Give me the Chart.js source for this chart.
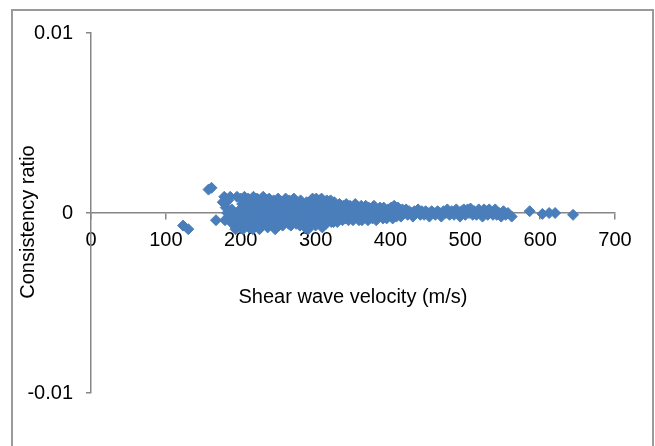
<!DOCTYPE html>
<html>
<head>
<meta charset="utf-8">
<title>Consistency ratio vs shear wave velocity</title>
<script src="https://cdn.jsdelivr.net/npm/chart.js@4.4.1/dist/chart.umd.min.js"></script>
<style>
  html, body { margin: 0; padding: 0; background: #fff; }
  #wrap { position: absolute; left: 0; top: 0; width: 655px; height: 446px; overflow: hidden; }
  #frame { position: absolute; left: 11px; top: 9px; width: 643px; height: 500px; box-sizing: border-box; border: 2px solid #9a9a9a; }
  canvas { position: absolute; left: 0; top: 0; }
</style>
</head>
<body>
<div id="wrap">
  <div id="frame"></div>
  <canvas id="chart" width="655" height="446"></canvas>
</div>
<script>
// shear wave velocity (m/s) of each site
const velocity = [
  123, 130, 157, 161, 167, 176, 178, 179, 180, 182, 183, 184, 186, 188, 189, 191, 193, 195, 196, 197, 199, 200,
  201, 202, 203, 204, 205, 206, 207, 208, 209, 210, 211, 212, 213, 214, 215, 216, 217, 218, 219, 220, 221, 222, 223, 224,
  225, 226, 227, 228, 229, 230, 231, 232, 233, 234, 236, 237, 238, 239, 240, 241, 242, 243, 244, 245, 246, 247, 248, 249,
  250, 251, 252, 253, 254, 255, 256, 257, 258, 259, 260, 261, 262, 263, 264, 265, 266, 267, 268, 269, 270, 271, 272, 273,
  274, 275, 276, 277, 278, 279, 280, 281, 282, 283, 284, 285, 286, 287, 288, 289, 290, 291, 292, 293, 294, 295, 296, 297,
  298, 299,
  300, 301, 302, 303, 304, 305, 306, 307, 308, 309, 310, 311, 312, 313, 314, 315, 316, 317, 318, 319, 320, 321, 322, 323,
  324, 325, 326, 327, 328, 329, 330, 332, 333, 334, 336, 337, 338, 340, 341, 342, 344, 345, 346, 348, 349,
  350, 352, 353, 355, 356, 358, 359, 361, 362, 364, 365, 367, 368, 370, 371, 373, 375, 376, 378, 380, 381, 383, 385, 386,
  388, 390, 391, 393, 395, 397, 399, 401, 403, 405, 406, 408, 410, 412, 414, 416, 418,
  421, 423, 425, 428, 430, 432, 435, 437, 440, 442, 445, 447, 450, 452, 455, 458, 460, 463, 466, 468, 471, 474, 476, 479,
  482, 485, 488, 490, 493, 495, 498, 500, 503, 505, 507, 510, 512, 515, 518, 520, 523, 525, 528, 530, 532, 535, 537, 540,
  542, 545, 548, 551, 554, 557, 562,
  586, 603, 612, 620, 644
];

// consistency ratio of each site
const ratio = [
  -0.0007, -0.0009, 0.0013, 0.0014, -0.0004, 0.0006, 0.0009, -0.0004, 0.0003, 0.0000, 0.0007, -0.0002, 0.0009, 0.0002, -0.0006, -0.0001, -0.0009, 0.0009, -0.0003, 0.0001, -0.0007, 0.0008,
  0.0000, 0.0005, -0.0009, 0.0003, 0.0009, -0.0005, 0.0007, -0.0002, 0.0001, 0.0008, -0.0008, 0.0004, -0.0003, 0.0006, 0.0000, -0.0009, 0.0009, 0.0002, -0.0006, 0.0005, -0.0001, 0.0008, -0.0004, 0.0003,
  -0.0009, 0.0007, 0.0000, -0.0007, 0.0004, 0.0009, -0.0002, 0.0001, -0.0005, 0.0006, -0.0008, 0.0002, 0.0008, -0.0003, 0.0005, 0.0000, -0.0006, 0.0003, 0.0007, -0.0001, -0.0009, 0.0004, 0.0001, -0.0004,
  0.0008, -0.0007, 0.0002, 0.0005, -0.0002, 0.0000, -0.0007, 0.0006, 0.0003, -0.0005, 0.0008, 0.0001, -0.0003, 0.0004, -0.0006, 0.0007, 0.0000, -0.0007, 0.0002, 0.0005, -0.0004, 0.0008, -0.0001, 0.0003,
  -0.0006, 0.0006, 0.0001, -0.0003, 0.0004, -0.0007, 0.0007, 0.0000, -0.0005, 0.0002, 0.0005, -0.0002, -0.0008, 0.0003, 0.0006, -0.0004, -0.0009, 0.0001, 0.0004, -0.0006, 0.0007, -0.0001, 0.0008, 0.0002,
  -0.0003, 0.0005,
  -0.0007, 0.0008, 0.0000, 0.0003, -0.0005, 0.0007, -0.0002, 0.0001, 0.0008, -0.0008, 0.0004, -0.0003, 0.0006, 0.0000, -0.0006, 0.0007, 0.0002, -0.0004, 0.0005, -0.0001, 0.0007, -0.0005, 0.0003, 0.0000,
  -0.0005, 0.0006, 0.0001, -0.0003, 0.0004, -0.0005, 0.0002, 0.0005, -0.0002, 0.0000, -0.0004, 0.0004, 0.0001, -0.0003, 0.0005, 0.0002, -0.0004, 0.0000, 0.0004, -0.0002, 0.0003,
  -0.0004, 0.0001, 0.0005, -0.0001, 0.0003, -0.0004, 0.0000, 0.0004, -0.0004, 0.0002, -0.0002, 0.0004, 0.0000, -0.0004, 0.0003, -0.0001, 0.0002, -0.0003, 0.0004, 0.0000, -0.0004, 0.0002, -0.0002, 0.0003,
  0.0000, -0.0003, 0.0003, 0.0001, -0.0003, 0.0002, -0.0001, 0.0003, -0.0003, 0.0004, 0.0001, -0.0002, 0.0003, 0.0000, -0.0002, 0.0002, 0.0000,
  0.0002, -0.0001, 0.0001, 0.0000, -0.0002, 0.0001, 0.0000, 0.0002, -0.0001, 0.0001, -0.0001, 0.0001, 0.0000, -0.0002, 0.0001, 0.0000, -0.0001, 0.0001, 0.0000, -0.0002, 0.0001, 0.0000, 0.0002, -0.0001,
  0.0001, -0.0001, 0.0002, 0.0000, -0.0002, 0.0001, 0.0002, -0.0001, 0.0002, 0.0000, 0.00025, -0.0001, 0.0001, -0.0001, 0.0002, 0.0000, -0.0002, 0.0002, 0.0001, -0.0001, 0.0002, 0.0000, -0.0001, 0.0002,
  -0.0001, 0.0000, -0.0002, 0.0001, -0.0001, 0.0000, -0.0002,
  0.0001, -0.00005, 0.0000, 0.0000, -0.0001
];

const xTicks = [0, 100, 200, 300, 400, 500, 600, 700];
const xTickLabels = ['0', '100', '200', '300', '400', '500', '600', '700'];
const yTicks = [-0.01, 0, 0.01];
const yTickLabels = ['-0.01', '0', '0.01'];

const xTitle = 'Shear wave velocity (m/s)';
const yTitle = 'Consistency ratio';

const fontFamily = "'Liberation Sans', Arial, sans-serif";
const axisGray = '#868686';
const markerBlue = '#4A7EBB';

// y title is drawn by hand so it can sit a little below the axis centre, like the original
const yTitlePlugin = {
    id: 'yTitle',
    afterDraw(chart) {
        const ctx = chart.ctx;
        const area = chart.chartArea;
        ctx.save();
        ctx.translate(area.left - 63, (area.top + area.bottom) / 2 + 9);
        ctx.rotate(-Math.PI / 2);
        ctx.font = '20px ' + fontFamily;
        ctx.fillStyle = '#000';
        ctx.textAlign = 'center';
        ctx.textBaseline = 'middle';
        ctx.fillText(yTitle, 0, 0);
        ctx.restore();
    },
};

const ctx = document.getElementById('chart').getContext('2d');
const myChart = new Chart(ctx, {
    type: 'scatter',
    data: {
        datasets: [{
            label: yTitle,
            data: velocity.map((v, i) => ({ x: v, y: ratio[i] })),
            pointStyle: 'rectRot',
            pointRadius: 5.5,
            pointBorderWidth: 1,
            backgroundColor: markerBlue,
            borderColor: markerBlue,
        }],
    },
    options: {
        responsive: false,
        animation: false,
        devicePixelRatio: 1,
        layout: {
            padding: { left: 0, top: 33, right: 40, bottom: 53 },
        },
        plugins: {
            legend: { display: false },
            tooltip: { enabled: false },
        },
        scales: {
            x: {
                type: 'linear',
                min: 0,
                max: 700,
                position: { y: 0 },
                afterBuildTicks: scale => {
                    scale.ticks = xTicks.map(v => ({ value: v }));
                },
                grid: { drawOnChartArea: false, drawTicks: true, tickLength: 6, color: axisGray, lineWidth: 1.5 },
                border: { display: true, color: axisGray, width: 1.5 },
                ticks: {
                    color: '#000',
                    padding: 9,
                    maxRotation: 0,
                    autoSkip: false,
                    font: { size: 20, family: fontFamily },
                    callback: (value, index) => xTickLabels[index],
                },
                title: {
                    display: true,
                    text: xTitle,
                    color: '#000',
                    padding: { top: 24, bottom: 0 },
                    font: { size: 20, family: fontFamily },
                },
            },
            y: {
                type: 'linear',
                min: -0.01,
                max: 0.01,
                afterBuildTicks: scale => {
                    scale.ticks = yTicks.map(v => ({ value: v }));
                },
                afterFit: scale => {
                    scale.width = 91;
                },
                grid: { drawOnChartArea: false, drawTicks: true, tickLength: 5, color: axisGray, lineWidth: 1.5 },
                border: { display: true, color: axisGray, width: 1.5 },
                ticks: {
                    color: '#000',
                    padding: 13,
                    autoSkip: false,
                    font: { size: 20, family: fontFamily },
                    callback: (value, index) => yTickLabels[index],
                },
            },
        },
    },
    plugins: [yTitlePlugin],
});
</script>
</body>
</html>
